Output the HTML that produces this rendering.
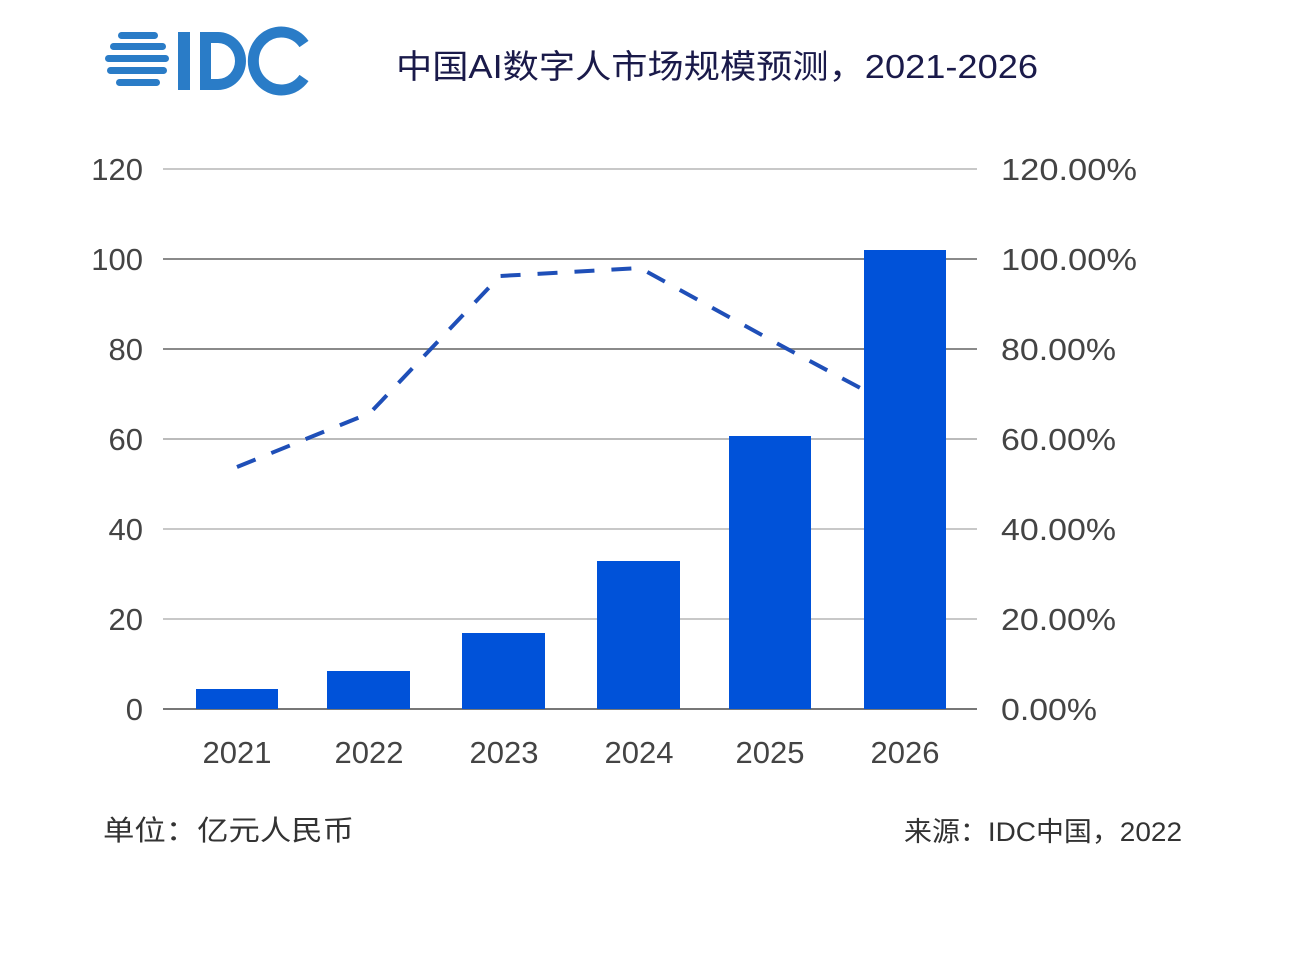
<!DOCTYPE html>
<html><head><meta charset="utf-8"><style>
body{margin:0;background:#fff;width:1293px;height:963px;overflow:hidden}
text{font-family:"Liberation Sans","Noto Sans CJK SC",sans-serif}
</style></head><body>
<svg width="1293" height="963" viewBox="0 0 1293 963">
<g fill="#2a7cc7">
<rect x="118" y="32" width="40" height="7" rx="3.5"/>
<rect x="110" y="43" width="56" height="7" rx="3.5"/>
<rect x="105" y="55" width="64" height="7" rx="3.5"/>
<rect x="107" y="67" width="60" height="7" rx="3.5"/>
<rect x="116" y="79" width="44" height="7" rx="3.5"/>
<rect x="178" y="32" width="12" height="58"/>
</g>
<path d="M200 32 h18 a28 29 0 0 1 0 58 h-18 z M211 43 v36 h7 a17 18 0 0 0 0 -36 z" fill="#2a7cc7" fill-rule="evenodd"/>
<path d="M304 44 A28 29 0 1 0 304 78" fill="none" stroke="#2a7cc7" stroke-width="11"/>
<text x="396" y="78" font-size="33" fill="#1a1a4a" textLength="642" lengthAdjust="spacingAndGlyphs">中国AI数字人市场规模预测，2021-2026</text>
<g stroke-width="2">
<line x1="163" x2="977" y1="169" y2="169" stroke="#c8c8c8"/>
<line x1="163" x2="977" y1="259" y2="259" stroke="#8a8a8a"/>
<line x1="163" x2="977" y1="349" y2="349" stroke="#8a8a8a"/>
<line x1="163" x2="977" y1="439" y2="439" stroke="#bbb"/>
<line x1="163" x2="977" y1="529" y2="529" stroke="#c8c8c8"/>
<line x1="163" x2="977" y1="619" y2="619" stroke="#c8c8c8"/>
<line x1="163" x2="977" y1="709" y2="709" stroke="#777"/>
</g>
<polyline points="237,467 370,413 500,276 640,268 780,345 905,412" fill="none" stroke="#1f4fb8" stroke-width="4" stroke-dasharray="20,17"/>
<g fill="#0052d9">
<rect x="196" y="689" width="82" height="20"/>
<rect x="327" y="671" width="83" height="38"/>
<rect x="462" y="633" width="83" height="76"/>
<rect x="597" y="561" width="83" height="148"/>
<rect x="729" y="436" width="82" height="273"/>
<rect x="864" y="250" width="82" height="459"/>
</g>
<g font-size="31" fill="#444" text-anchor="end">
<text x="143" y="180">120</text><text x="143" y="270">100</text><text x="143" y="360">80</text>
<text x="143" y="450">60</text><text x="143" y="540">40</text><text x="143" y="630">20</text><text x="143" y="720">0</text>
</g>
<g font-size="31" fill="#444">
<text x="1001" y="180" textLength="136" lengthAdjust="spacingAndGlyphs">120.00%</text>
<text x="1001" y="270" textLength="136" lengthAdjust="spacingAndGlyphs">100.00%</text>
<text x="1001" y="360" textLength="115" lengthAdjust="spacingAndGlyphs">80.00%</text>
<text x="1001" y="450" textLength="115" lengthAdjust="spacingAndGlyphs">60.00%</text>
<text x="1001" y="540" textLength="115" lengthAdjust="spacingAndGlyphs">40.00%</text>
<text x="1001" y="630" textLength="115" lengthAdjust="spacingAndGlyphs">20.00%</text>
<text x="1001" y="720" textLength="96" lengthAdjust="spacingAndGlyphs">0.00%</text>
</g>
<g font-size="31" fill="#444" text-anchor="middle">
<text x="237" y="763">2021</text><text x="369" y="763">2022</text><text x="504" y="763">2023</text>
<text x="639" y="763">2024</text><text x="770" y="763">2025</text><text x="905" y="763">2026</text>
</g>
<text x="103" y="840" font-size="28" fill="#333" textLength="251" lengthAdjust="spacingAndGlyphs">单位：亿元人民币</text>
<text x="904" y="841" font-size="27" fill="#333" textLength="278" lengthAdjust="spacingAndGlyphs">来源：IDC中国，2022</text>
</svg>
</body></html>
